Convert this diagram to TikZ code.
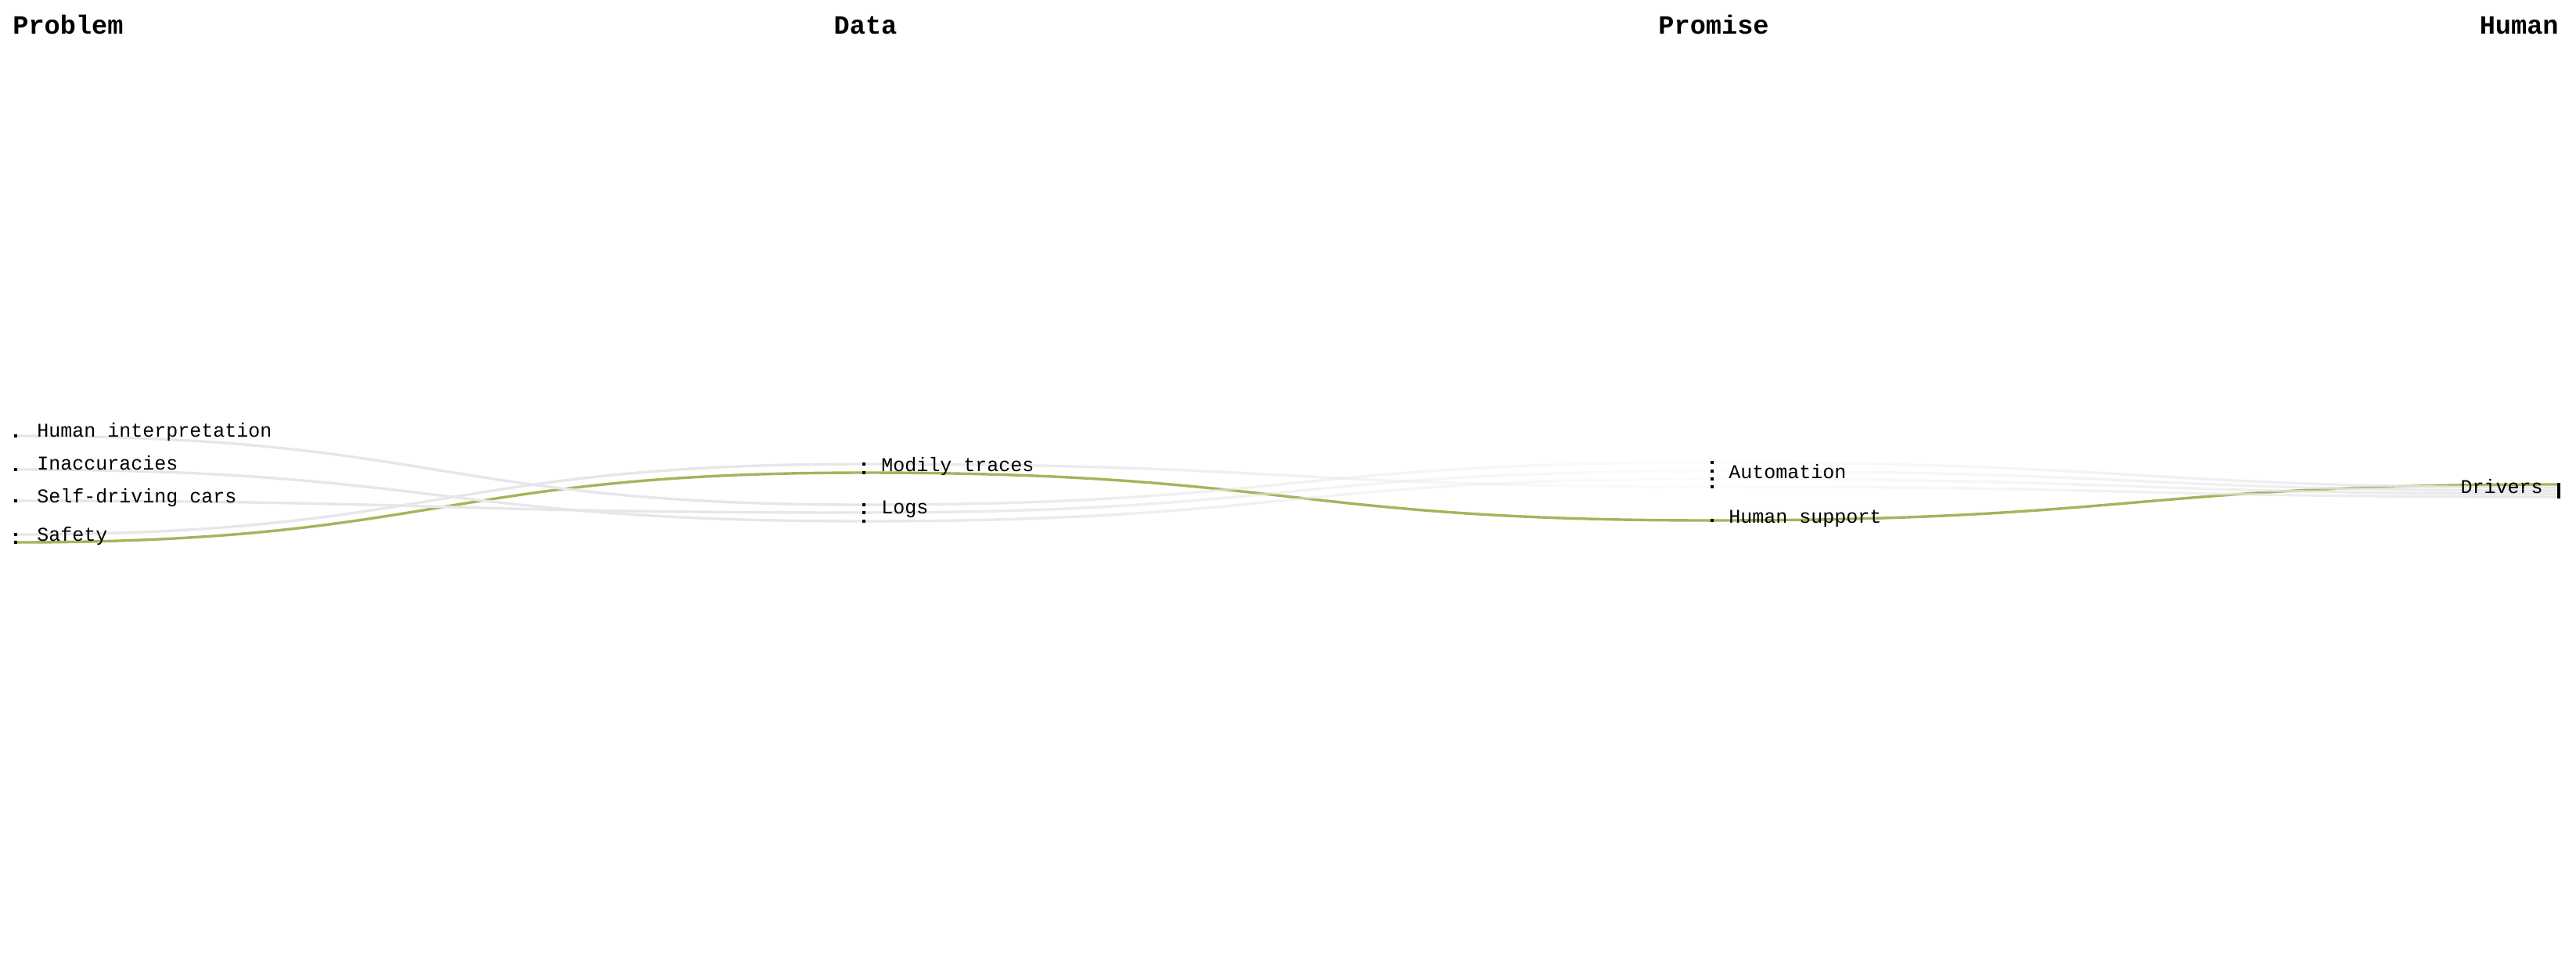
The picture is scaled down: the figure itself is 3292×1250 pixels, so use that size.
\documentclass[tikz,border=0pt]{standalone}
\usepackage{fontspec}
\setmonofont{Liberation Mono}
\usetikzlibrary{fadings, backgrounds}
\definecolor{flowgrey}{HTML}{E6E7E8}
\definecolor{flowgreen}{HTML}{A2B65A}
\tikzstyle{record}=[rectangle, fill=black, inner sep=0pt, minimum size=2pt]
\tikzstyle{itemtext}=[inner sep=0pt, font=\ttfamily\fontsize{12.5}{14}\selectfont]
\tikzstyle{axishead}=[inner sep=0pt, font=\ttfamily\bfseries\fontsize{16.8}{19}\selectfont]
\tikzstyle{flow}=[line width=1.7pt, draw=flowgrey]
\newcommand{\record}{\node[record]}
\tikzfading[name=fade out, left color=transparent!0, right color=transparent!90]
\tikzfading[name=fade in, left color=transparent!90, right color=transparent!0]

\begin{document}
\begin{tikzpicture}[x=0.5pt, y=-0.5pt]
\useasboundingbox (0,0) rectangle (3292,1250);
%axes
\node[axishead, anchor=base west] (problem) at (16,43){Problem};
\node[axishead, anchor=base] (data) at (1106,43){Data};
\node[axishead, anchor=base] (promise) at (2190,43){Promise};
\node[axishead, anchor=base east] (human) at (3270,43){Human};
%records
\foreach \i/\y in {1/557, 2/600, 3/640, 4/683, 5/693}{
	\record (p\i) at (20,\y){};}
\foreach \i/\y in {1/593, 2/604, 3/645, 4/655, 5/666}{
	\record (d\i) at (1104,\y){};}
\foreach \i/\y in {1/591, 2/602, 3/612, 4/622, 5/665}{
	\record (r\i) at (2188,\y){};}
\foreach \i/\y in {1/619, 2/623, 3/627, 4/631, 5/635}{
	\record (h\i) at (3270,\y){};}
%flows
\begin{scope}[on background layer]
\draw[flow, draw=flowgreen] (p5.center) .. controls +(542,0) and +(-542,0) .. (d2.center)
	.. controls +(542,0) and +(-542,0) .. (r5.center)
	.. controls +(541,0) and +(-541,0) .. (h1.center);
\foreach \a/\b/\c/\d in {4/1/4/5, 1/3/1/2, 3/4/2/3, 2/5/3/4}{
	\draw[flow] (p\a.center) .. controls +(542,0) and +(-542,0) .. (d\b.center);
	\draw[flow, path fading=fade out] (d\b.center) .. controls +(542,0) and +(-542,0) .. (r\c.center);
	\draw[flow, path fading=fade in] (r\c.center) .. controls +(541,0) and +(-541,0) .. (h\d.center);}
\end{scope}
%labels
\foreach \n/\y/\t in {1/558/Human interpretation, 2/600/Inaccuracies, 3/642/Self-driving cars, 4/691/Safety}{
	\node[itemtext, anchor=base west] (lp\n) at (47,\y){\t};}
\node[itemtext, anchor=base west] (ld1) at (1126,602){Modily traces};
\node[itemtext, anchor=base west] (ld2) at (1126,656){Logs};
\node[itemtext, anchor=base west] (lr1) at (2209,611){Automation};
\node[itemtext, anchor=base west] (lr2) at (2209,668){Human support};
\node[itemtext, anchor=base east] (lh1) at (3250,630){Drivers};
\end{tikzpicture}
\end{document}
